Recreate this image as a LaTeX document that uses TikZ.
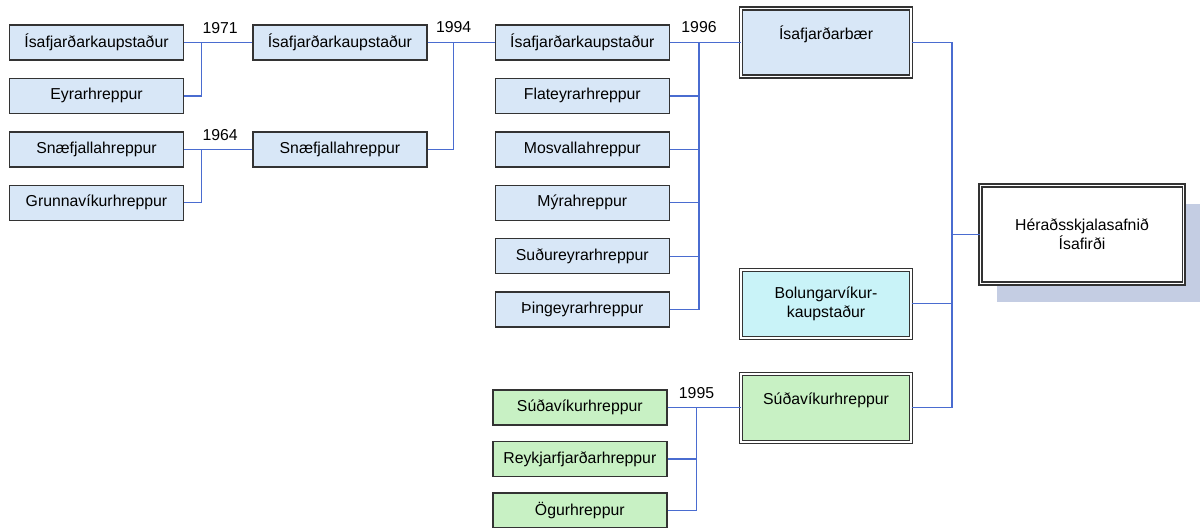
\documentclass[tikz,border=0pt]{standalone}
\usepackage{fontspec}
\setmainfont{Liberation Sans}
\usetikzlibrary{positioning, shadows}
\definecolor{link-blue}{HTML}{4A6CD0}
\definecolor{box-blue}{HTML}{D8E7F7}
\definecolor{box-cyan}{HTML}{C9F3F8}
\definecolor{box-green}{HTML}{C8F1C4}
\definecolor{shadow-grey}{HTML}{C4CDE3}

\begin{document}
\begin{tikzpicture}[
    node distance=0.34cm and 1.36cm,
    font=\fontsize{9}{11}\selectfont,
    box/.style={draw=black!80, line width=0.8pt, fill=box-blue, minimum width=3.48cm, minimum height=0.7cm, inner sep=0pt, align=center},
    bigbox/.style={box, double=white, double distance=1.1pt, line width=0.6pt, minimum width=3.4cm, minimum height=1.36cm},
    toptext/.style={text height=0.25cm, text depth=0.38cm},
    link/.style={draw=link-blue, line width=0.7pt},
    year/.style={inner sep=0pt}
]
    \useasboundingbox (0,0) rectangle (24,-10.54);

    % first mergers
    \node[box] (isa1) at (1.93,-0.85) {Ísafjarðarkaupstaður};
    \node[box, below=of isa1] (eyra) {Eyrarhreppur};
    \node[box, below=of eyra] (snae1) {Snæfjallahreppur};
    \node[box, below=of snae1] (grunna) {Grunnavíkurhreppur};

    \node[box, right=of isa1] (isa2) {Ísafjarðarkaupstaður};
    \node[box, right=of snae1] (snae2) {Snæfjallahreppur};

    \node[box, right=1.34cm of isa2] (isa3) {Ísafjarðarkaupstaður};
    \node[box, below=of isa3] (flat) {Flateyrarhreppur};
    \node[box, below=of flat] (mosv) {Mosvallahreppur};
    \node[box, below=of mosv] (myra) {Mýrahreppur};
    \node[box, below=of myra] (sudur) {Suðureyrarhreppur};
    \node[box, below=of sudur] (thing) {Þingeyrarhreppur};

    % present municipalities
    \node[bigbox, toptext, right=1.41cm of isa3] (baer) {Ísafjarðarbær};
    \node[bigbox, fill=box-cyan, below=3.84cm of baer] (bolung) {Bolungarvíkur-\\kaupstaður};
    \node[bigbox, toptext, fill=box-green, below=0.7cm of bolung] (suda) {Súðavíkurhreppur};

    \node[box, fill=box-green, left=1.46cm of suda] (suda1) {Súðavíkurhreppur};
    \node[box, fill=box-green, below=0.3cm of suda1] (reyk) {Reykjarfjarðarhreppur};
    \node[box, fill=box-green, below=0.3cm of reyk] (ogur) {Ögurhreppur};

    % archive
    \node[bigbox, fill=white, minimum width=4.06cm, minimum height=1.96cm,
          drop shadow={shadow xshift=0.32cm, shadow yshift=-0.36cm, fill=shadow-grey, opacity=1}]
          (archive) at (21.64,-4.69) {Héraðsskjalasafnið\\Ísafirði};

    % junctions
    \coordinate[right=0.34cm of isa1.east] (j71);
    \coordinate[right=0.34cm of snae1.east] (j64);
    \coordinate[right=0.52cm of isa2.east] (j94);
    \coordinate[right=0.58cm of isa3.east] (j96);
    \coordinate[right=0.58cm of suda1.east] (j95);
    \coordinate[right=0.81cm of baer.east] (jarch);

    \draw[link] (isa1) -- (isa2);
    \draw[link] (eyra.east) -| (j71);
    \draw[link] (snae1) -- (snae2);
    \draw[link] (grunna.east) -| (j64);
    \draw[link] (isa2) -- (isa3);
    \draw[link] (snae2.east) -| (j94);
    \draw[link] (isa3) -- (baer);
    \foreach \n in {flat,mosv,myra,sudur,thing}
        \draw[link] (\n.east) -| (j96);
    \draw[link] (suda1) -- (suda);
    \foreach \n in {reyk,ogur}
        \draw[link] (\n.east) -| (j95);
    \draw[link] (baer) -- (jarch);
    \draw[link] (bolung.east) -| (jarch);
    \draw[link] (suda.east) -| (jarch);
    \draw[link] (jarch |- archive.west) -- (archive.west);

    % years
    \node[year, above right=0.16cm and 0.02cm of j71] (y1971) {1971};
    \node[year, above right=0.16cm and 0.02cm of j64] (y1964) {1964};
    \node[year, above=0.18cm of j94] (y1994) {1994};
    \node[year, above=0.18cm of j96] (y1996) {1996};
    \node[year, above=0.18cm of j95] (y1995) {1995};
\end{tikzpicture}
\end{document}
